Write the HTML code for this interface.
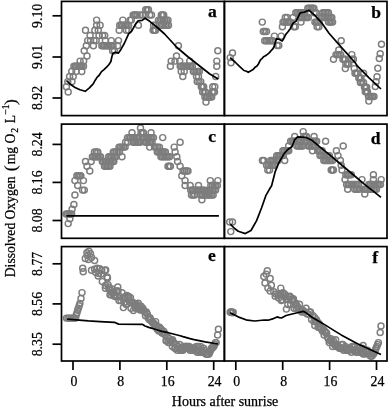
<!DOCTYPE html>
<html><head><meta charset="utf-8"><title>Dissolved Oxygen</title>
<style>html,body{margin:0;padding:0;background:#fff}svg{display:block}text{font-family:"Liberation Serif",serif;fill:#000;stroke:#000;stroke-width:0.25px}</style></head><body>
<svg width="388" height="410" viewBox="0 0 388 410">
<rect width="388" height="410" fill="#fff"/>
<g fill="none" stroke="#7d7d7d" stroke-width="1.45">
<circle cx="145.7" cy="9.8" r="3.0"/>
<circle cx="147.1" cy="9.8" r="3.0"/>
<circle cx="148.5" cy="9.8" r="3.0"/>
<circle cx="133.2" cy="14.9" r="3.0"/>
<circle cx="134.5" cy="14.9" r="3.0"/>
<circle cx="135.7" cy="14.9" r="3.0"/>
<circle cx="137" cy="14.9" r="3.0"/>
<circle cx="140.1" cy="14.9" r="3.0"/>
<circle cx="142.5" cy="14.9" r="3.0"/>
<circle cx="145.3" cy="14.9" r="3.0"/>
<circle cx="149.7" cy="14.9" r="3.0"/>
<circle cx="151.5" cy="14.9" r="3.0"/>
<circle cx="161.3" cy="14.9" r="3.0"/>
<circle cx="162.5" cy="14.9" r="3.0"/>
<circle cx="163.7" cy="14.9" r="3.0"/>
<circle cx="96.6" cy="20.1" r="3.0"/>
<circle cx="122.8" cy="20.1" r="3.0"/>
<circle cx="130" cy="20.1" r="3.0"/>
<circle cx="131.3" cy="20.1" r="3.0"/>
<circle cx="158.5" cy="20.1" r="3.0"/>
<circle cx="160.1" cy="20.1" r="3.0"/>
<circle cx="161.7" cy="20.1" r="3.0"/>
<circle cx="163.2" cy="20.1" r="3.0"/>
<circle cx="164.8" cy="20.1" r="3.0"/>
<circle cx="166.4" cy="20.1" r="3.0"/>
<circle cx="168" cy="20.1" r="3.0"/>
<circle cx="96.6" cy="25.2" r="3.0"/>
<circle cx="100.1" cy="25.2" r="3.0"/>
<circle cx="119.7" cy="25.2" r="3.0"/>
<circle cx="121.2" cy="25.2" r="3.0"/>
<circle cx="122.7" cy="25.2" r="3.0"/>
<circle cx="124.2" cy="25.2" r="3.0"/>
<circle cx="125.6" cy="25.2" r="3.0"/>
<circle cx="127.1" cy="25.2" r="3.0"/>
<circle cx="128.6" cy="25.2" r="3.0"/>
<circle cx="138.4" cy="25.2" r="3.0"/>
<circle cx="153.6" cy="25.2" r="3.0"/>
<circle cx="155.5" cy="25.2" r="3.0"/>
<circle cx="161" cy="25.2" r="3.0"/>
<circle cx="162.5" cy="25.2" r="3.0"/>
<circle cx="164" cy="25.2" r="3.0"/>
<circle cx="165.5" cy="25.2" r="3.0"/>
<circle cx="167" cy="25.2" r="3.0"/>
<circle cx="168.5" cy="25.2" r="3.0"/>
<circle cx="85.5" cy="30.3" r="3.0"/>
<circle cx="94.8" cy="30.3" r="3.0"/>
<circle cx="98.3" cy="30.3" r="3.0"/>
<circle cx="119.2" cy="30.3" r="3.0"/>
<circle cx="126.3" cy="30.3" r="3.0"/>
<circle cx="128.4" cy="30.3" r="3.0"/>
<circle cx="153.1" cy="30.3" r="3.0"/>
<circle cx="154.3" cy="30.3" r="3.0"/>
<circle cx="155.6" cy="30.3" r="3.0"/>
<circle cx="90.1" cy="35.5" r="3.0"/>
<circle cx="99" cy="35.5" r="3.0"/>
<circle cx="102.6" cy="35.5" r="3.0"/>
<circle cx="104.7" cy="35.5" r="3.0"/>
<circle cx="87.7" cy="40.6" r="3.0"/>
<circle cx="90.5" cy="40.6" r="3.0"/>
<circle cx="94" cy="40.6" r="3.0"/>
<circle cx="96.2" cy="40.6" r="3.0"/>
<circle cx="105.4" cy="40.6" r="3.0"/>
<circle cx="111.3" cy="40.6" r="3.0"/>
<circle cx="118.5" cy="40.6" r="3.0"/>
<circle cx="86.3" cy="45.7" r="3.0"/>
<circle cx="93.4" cy="45.7" r="3.0"/>
<circle cx="101.8" cy="45.7" r="3.0"/>
<circle cx="103.2" cy="45.7" r="3.0"/>
<circle cx="104.6" cy="45.7" r="3.0"/>
<circle cx="106" cy="45.7" r="3.0"/>
<circle cx="107.4" cy="45.7" r="3.0"/>
<circle cx="108.8" cy="45.7" r="3.0"/>
<circle cx="110.2" cy="45.7" r="3.0"/>
<circle cx="111.6" cy="45.7" r="3.0"/>
<circle cx="113" cy="45.7" r="3.0"/>
<circle cx="117.6" cy="45.7" r="3.0"/>
<circle cx="178.4" cy="45.7" r="3.0"/>
<circle cx="84.2" cy="50.8" r="3.0"/>
<circle cx="112.6" cy="50.8" r="3.0"/>
<circle cx="114.4" cy="50.8" r="3.0"/>
<circle cx="217.8" cy="50.8" r="3.0"/>
<circle cx="87" cy="56" r="3.0"/>
<circle cx="176.5" cy="56" r="3.0"/>
<circle cx="80.1" cy="61.1" r="3.0"/>
<circle cx="83.7" cy="61.1" r="3.0"/>
<circle cx="171.2" cy="61.1" r="3.0"/>
<circle cx="175" cy="61.1" r="3.0"/>
<circle cx="179.7" cy="61.1" r="3.0"/>
<circle cx="189.7" cy="61.1" r="3.0"/>
<circle cx="216.8" cy="61.1" r="3.0"/>
<circle cx="73.9" cy="66.2" r="3.0"/>
<circle cx="75.3" cy="66.2" r="3.0"/>
<circle cx="76.6" cy="66.2" r="3.0"/>
<circle cx="78" cy="66.2" r="3.0"/>
<circle cx="79.4" cy="66.2" r="3.0"/>
<circle cx="80.8" cy="66.2" r="3.0"/>
<circle cx="82.1" cy="66.2" r="3.0"/>
<circle cx="83.5" cy="66.2" r="3.0"/>
<circle cx="170.4" cy="66.2" r="3.0"/>
<circle cx="180.2" cy="66.2" r="3.0"/>
<circle cx="181.7" cy="66.2" r="3.0"/>
<circle cx="183.2" cy="66.2" r="3.0"/>
<circle cx="184.7" cy="66.2" r="3.0"/>
<circle cx="186.2" cy="66.2" r="3.0"/>
<circle cx="187.8" cy="66.2" r="3.0"/>
<circle cx="189.3" cy="66.2" r="3.0"/>
<circle cx="190.8" cy="66.2" r="3.0"/>
<circle cx="192.3" cy="66.2" r="3.0"/>
<circle cx="216.8" cy="66.2" r="3.0"/>
<circle cx="71.7" cy="71.4" r="3.0"/>
<circle cx="76" cy="71.4" r="3.0"/>
<circle cx="81.8" cy="71.4" r="3.0"/>
<circle cx="181.2" cy="71.4" r="3.0"/>
<circle cx="184.3" cy="71.4" r="3.0"/>
<circle cx="193.3" cy="71.4" r="3.0"/>
<circle cx="194.8" cy="71.4" r="3.0"/>
<circle cx="196.3" cy="71.4" r="3.0"/>
<circle cx="197.8" cy="71.4" r="3.0"/>
<circle cx="199.3" cy="71.4" r="3.0"/>
<circle cx="69.6" cy="76.5" r="3.0"/>
<circle cx="73.2" cy="76.5" r="3.0"/>
<circle cx="182.8" cy="76.5" r="3.0"/>
<circle cx="196.5" cy="76.5" r="3.0"/>
<circle cx="198.5" cy="76.5" r="3.0"/>
<circle cx="215.7" cy="76.5" r="3.0"/>
<circle cx="67.8" cy="81.6" r="3.0"/>
<circle cx="72" cy="81.6" r="3.0"/>
<circle cx="197.2" cy="81.6" r="3.0"/>
<circle cx="199" cy="81.6" r="3.0"/>
<circle cx="200.8" cy="81.6" r="3.0"/>
<circle cx="66.4" cy="86.8" r="3.0"/>
<circle cx="201.3" cy="86.8" r="3.0"/>
<circle cx="202.5" cy="86.8" r="3.0"/>
<circle cx="203.7" cy="86.8" r="3.0"/>
<circle cx="212.7" cy="86.8" r="3.0"/>
<circle cx="214.8" cy="86.8" r="3.0"/>
<circle cx="68.2" cy="91.9" r="3.0"/>
<circle cx="202.6" cy="91.9" r="3.0"/>
<circle cx="204.1" cy="91.9" r="3.0"/>
<circle cx="205.5" cy="91.9" r="3.0"/>
<circle cx="212.2" cy="91.9" r="3.0"/>
<circle cx="213.3" cy="91.9" r="3.0"/>
<circle cx="214.5" cy="91.9" r="3.0"/>
<circle cx="204.9" cy="97" r="3.0"/>
<circle cx="206.3" cy="97" r="3.0"/>
<circle cx="207.6" cy="97" r="3.0"/>
<circle cx="209" cy="97" r="3.0"/>
<circle cx="210.3" cy="97" r="3.0"/>
<circle cx="211.7" cy="97" r="3.0"/>
<circle cx="206" cy="102.1" r="3.0"/>
</g>
<polyline fill="none" stroke="#000" stroke-width="1.7" stroke-linejoin="round" points="66.4,80.5 70,84 75,87.5 80,89.8 85.2,91.3 89.4,87.8 93.4,83.6 95.2,80.2 97.4,76.9 99,75.5 101.5,71.6 104,69.6 106.8,66.8 109,64.5 110.9,61.5 111.8,57 112.9,53.4 115.6,52.2 118.3,53.2 120.4,50.3 124.5,43 128.6,33.8 131.7,31.2 135.3,24.5 137.9,20.9 142,20.4 145.1,18.2 149.7,21.3 156.8,27 164.6,34 177,47.5 188.2,57 199,65.5 209.8,74 218.3,79.1"/>
<g fill="none" stroke="#7d7d7d" stroke-width="1.45">
<circle cx="307.8" cy="8.2" r="3.0"/>
<circle cx="309.3" cy="8.2" r="3.0"/>
<circle cx="310.9" cy="8.2" r="3.0"/>
<circle cx="312.4" cy="8.2" r="3.0"/>
<circle cx="313.9" cy="8.2" r="3.0"/>
<circle cx="295.8" cy="12.8" r="3.0"/>
<circle cx="297.3" cy="12.8" r="3.0"/>
<circle cx="298.8" cy="12.8" r="3.0"/>
<circle cx="300.2" cy="12.8" r="3.0"/>
<circle cx="301.7" cy="12.8" r="3.0"/>
<circle cx="303.2" cy="12.8" r="3.0"/>
<circle cx="304.7" cy="12.8" r="3.0"/>
<circle cx="314.2" cy="12.8" r="3.0"/>
<circle cx="316.1" cy="12.8" r="3.0"/>
<circle cx="322.7" cy="12.8" r="3.0"/>
<circle cx="324.1" cy="12.8" r="3.0"/>
<circle cx="325.6" cy="12.8" r="3.0"/>
<circle cx="327.1" cy="12.8" r="3.0"/>
<circle cx="328.5" cy="12.8" r="3.0"/>
<circle cx="285.3" cy="17.5" r="3.0"/>
<circle cx="287.2" cy="17.5" r="3.0"/>
<circle cx="293.1" cy="17.5" r="3.0"/>
<circle cx="300" cy="17.5" r="3.0"/>
<circle cx="301.4" cy="17.5" r="3.0"/>
<circle cx="302.8" cy="17.5" r="3.0"/>
<circle cx="304.1" cy="17.5" r="3.0"/>
<circle cx="305.5" cy="17.5" r="3.0"/>
<circle cx="306.9" cy="17.5" r="3.0"/>
<circle cx="308.3" cy="17.5" r="3.0"/>
<circle cx="321.3" cy="17.5" r="3.0"/>
<circle cx="322.8" cy="17.5" r="3.0"/>
<circle cx="324.3" cy="17.5" r="3.0"/>
<circle cx="325.8" cy="17.5" r="3.0"/>
<circle cx="327.3" cy="17.5" r="3.0"/>
<circle cx="328.8" cy="17.5" r="3.0"/>
<circle cx="330.3" cy="17.5" r="3.0"/>
<circle cx="331.8" cy="17.5" r="3.0"/>
<circle cx="262.3" cy="22.1" r="3.0"/>
<circle cx="283" cy="22.1" r="3.0"/>
<circle cx="284.5" cy="22.1" r="3.0"/>
<circle cx="286" cy="22.1" r="3.0"/>
<circle cx="287.5" cy="22.1" r="3.0"/>
<circle cx="289" cy="22.1" r="3.0"/>
<circle cx="290.5" cy="22.1" r="3.0"/>
<circle cx="301" cy="22.1" r="3.0"/>
<circle cx="314.9" cy="22.1" r="3.0"/>
<circle cx="316.2" cy="22.1" r="3.0"/>
<circle cx="317.6" cy="22.1" r="3.0"/>
<circle cx="318.9" cy="22.1" r="3.0"/>
<circle cx="328.5" cy="22.1" r="3.0"/>
<circle cx="329.9" cy="22.1" r="3.0"/>
<circle cx="331.2" cy="22.1" r="3.0"/>
<circle cx="332.6" cy="22.1" r="3.0"/>
<circle cx="282.4" cy="26.8" r="3.0"/>
<circle cx="293.9" cy="26.8" r="3.0"/>
<circle cx="295.3" cy="26.8" r="3.0"/>
<circle cx="317.1" cy="26.8" r="3.0"/>
<circle cx="318.9" cy="26.8" r="3.0"/>
<circle cx="263.3" cy="31.4" r="3.0"/>
<circle cx="264.9" cy="31.4" r="3.0"/>
<circle cx="266.5" cy="31.4" r="3.0"/>
<circle cx="274.4" cy="36.1" r="3.0"/>
<circle cx="281.2" cy="36.1" r="3.0"/>
<circle cx="264.7" cy="40.7" r="3.0"/>
<circle cx="266.3" cy="40.7" r="3.0"/>
<circle cx="267.9" cy="40.7" r="3.0"/>
<circle cx="269.5" cy="40.7" r="3.0"/>
<circle cx="271.1" cy="40.7" r="3.0"/>
<circle cx="272.7" cy="40.7" r="3.0"/>
<circle cx="341.2" cy="40.7" r="3.0"/>
<circle cx="277.2" cy="45.4" r="3.0"/>
<circle cx="278.8" cy="45.4" r="3.0"/>
<circle cx="338.8" cy="50" r="3.0"/>
<circle cx="336" cy="54.6" r="3.0"/>
<circle cx="337.6" cy="54.6" r="3.0"/>
<circle cx="339.1" cy="54.6" r="3.0"/>
<circle cx="340.7" cy="54.6" r="3.0"/>
<circle cx="351.8" cy="54.6" r="3.0"/>
<circle cx="333.5" cy="59.3" r="3.0"/>
<circle cx="342.9" cy="59.3" r="3.0"/>
<circle cx="344.1" cy="59.3" r="3.0"/>
<circle cx="345.3" cy="59.3" r="3.0"/>
<circle cx="351.8" cy="59.3" r="3.0"/>
<circle cx="353.4" cy="59.3" r="3.0"/>
<circle cx="345.8" cy="63.9" r="3.0"/>
<circle cx="347.3" cy="63.9" r="3.0"/>
<circle cx="348.8" cy="63.9" r="3.0"/>
<circle cx="345.3" cy="68.6" r="3.0"/>
<circle cx="354.2" cy="68.6" r="3.0"/>
<circle cx="355" cy="73.2" r="3.0"/>
<circle cx="356.2" cy="73.2" r="3.0"/>
<circle cx="357.5" cy="73.2" r="3.0"/>
<circle cx="363.6" cy="73.2" r="3.0"/>
<circle cx="358.8" cy="77.9" r="3.0"/>
<circle cx="359.9" cy="77.9" r="3.0"/>
<circle cx="361" cy="77.9" r="3.0"/>
<circle cx="360.4" cy="82.5" r="3.0"/>
<circle cx="361.9" cy="82.5" r="3.0"/>
<circle cx="363.5" cy="82.5" r="3.0"/>
<circle cx="364.5" cy="87.2" r="3.0"/>
<circle cx="365.6" cy="87.2" r="3.0"/>
<circle cx="366.7" cy="87.2" r="3.0"/>
<circle cx="365.3" cy="91.8" r="3.0"/>
<circle cx="366.4" cy="91.8" r="3.0"/>
<circle cx="367.5" cy="91.8" r="3.0"/>
<circle cx="368.5" cy="96.5" r="3.0"/>
<circle cx="369.9" cy="96.5" r="3.0"/>
<circle cx="371.2" cy="96.5" r="3.0"/>
<circle cx="372.6" cy="96.5" r="3.0"/>
<circle cx="374" cy="96.5" r="3.0"/>
<circle cx="368.8" cy="101.1" r="3.0"/>
<circle cx="232.5" cy="52.9" r="3.0"/>
<circle cx="230.2" cy="57.6" r="3.0"/>
<circle cx="231" cy="62.7" r="3.0"/>
<circle cx="381.5" cy="44.2" r="3.0"/>
<circle cx="380.2" cy="53.8" r="3.0"/>
<circle cx="379.3" cy="58.5" r="3.0"/>
<circle cx="377.8" cy="68.2" r="3.0"/>
<circle cx="377" cy="76.8" r="3.0"/>
<circle cx="376.1" cy="81.7" r="3.0"/>
<circle cx="375.3" cy="86.5" r="3.0"/>
</g>
<polyline fill="none" stroke="#000" stroke-width="1.7" stroke-linejoin="round" points="230.2,57.6 235,62 240,66.8 244,70.5 246.5,71.2 248.3,72.3 250.5,71 252.7,69.8 255.5,66.9 257,66 258.4,64 260.6,59.7 262,58.6 263.5,56.8 265.5,55.8 267.1,54.6 269.5,52.6 271.4,50.3 273,48.6 274.3,46 275.4,42 276.5,38.8 279,39.2 282.2,41 283.8,38.5 285.8,34.4 288.2,31.5 290.2,28.7 293.1,23 296,21.3 300.2,12.8 304.5,12.1 308.8,10.2 315.1,15.6 322.2,23.4 329,33.3 341.2,47.1 355,62.5 357.5,66.2 368.8,77.6 381,89"/>
<g fill="none" stroke="#7d7d7d" stroke-width="1.45">
<circle cx="140.5" cy="128" r="3.0"/>
<circle cx="132" cy="132.8" r="3.0"/>
<circle cx="141" cy="132.8" r="3.0"/>
<circle cx="142.2" cy="132.8" r="3.0"/>
<circle cx="143.5" cy="132.8" r="3.0"/>
<circle cx="151.1" cy="132.8" r="3.0"/>
<circle cx="127.5" cy="137.6" r="3.0"/>
<circle cx="129" cy="137.6" r="3.0"/>
<circle cx="130.5" cy="137.6" r="3.0"/>
<circle cx="132" cy="137.6" r="3.0"/>
<circle cx="133.4" cy="137.6" r="3.0"/>
<circle cx="134.9" cy="137.6" r="3.0"/>
<circle cx="136.4" cy="137.6" r="3.0"/>
<circle cx="137.9" cy="137.6" r="3.0"/>
<circle cx="143.1" cy="137.6" r="3.0"/>
<circle cx="144.6" cy="137.6" r="3.0"/>
<circle cx="146.1" cy="137.6" r="3.0"/>
<circle cx="147.6" cy="137.6" r="3.0"/>
<circle cx="149" cy="137.6" r="3.0"/>
<circle cx="150.5" cy="137.6" r="3.0"/>
<circle cx="152" cy="137.6" r="3.0"/>
<circle cx="153.5" cy="137.6" r="3.0"/>
<circle cx="162.7" cy="137.6" r="3.0"/>
<circle cx="125.6" cy="142.3" r="3.0"/>
<circle cx="127.7" cy="142.3" r="3.0"/>
<circle cx="133.2" cy="142.3" r="3.0"/>
<circle cx="134.6" cy="142.3" r="3.0"/>
<circle cx="135.9" cy="142.3" r="3.0"/>
<circle cx="137.3" cy="142.3" r="3.0"/>
<circle cx="138.6" cy="142.3" r="3.0"/>
<circle cx="140" cy="142.3" r="3.0"/>
<circle cx="145.3" cy="142.3" r="3.0"/>
<circle cx="146.7" cy="142.3" r="3.0"/>
<circle cx="148" cy="142.3" r="3.0"/>
<circle cx="149.4" cy="142.3" r="3.0"/>
<circle cx="150.7" cy="142.3" r="3.0"/>
<circle cx="152.1" cy="142.3" r="3.0"/>
<circle cx="180.1" cy="142.3" r="3.0"/>
<circle cx="119" cy="147.1" r="3.0"/>
<circle cx="120.5" cy="147.1" r="3.0"/>
<circle cx="122" cy="147.1" r="3.0"/>
<circle cx="123.6" cy="147.1" r="3.0"/>
<circle cx="125.1" cy="147.1" r="3.0"/>
<circle cx="149.7" cy="147.1" r="3.0"/>
<circle cx="154.5" cy="147.1" r="3.0"/>
<circle cx="156.2" cy="147.1" r="3.0"/>
<circle cx="157.8" cy="147.1" r="3.0"/>
<circle cx="159.5" cy="147.1" r="3.0"/>
<circle cx="174.2" cy="147.1" r="3.0"/>
<circle cx="94.5" cy="151.9" r="3.0"/>
<circle cx="96.2" cy="151.9" r="3.0"/>
<circle cx="97.8" cy="151.9" r="3.0"/>
<circle cx="113.3" cy="151.9" r="3.0"/>
<circle cx="114.8" cy="151.9" r="3.0"/>
<circle cx="116.4" cy="151.9" r="3.0"/>
<circle cx="118" cy="151.9" r="3.0"/>
<circle cx="119.5" cy="151.9" r="3.0"/>
<circle cx="157.3" cy="151.9" r="3.0"/>
<circle cx="158.7" cy="151.9" r="3.0"/>
<circle cx="160" cy="151.9" r="3.0"/>
<circle cx="161.4" cy="151.9" r="3.0"/>
<circle cx="162.7" cy="151.9" r="3.0"/>
<circle cx="164.1" cy="151.9" r="3.0"/>
<circle cx="165.4" cy="151.9" r="3.0"/>
<circle cx="175.1" cy="151.9" r="3.0"/>
<circle cx="92.4" cy="156.7" r="3.0"/>
<circle cx="93.8" cy="156.7" r="3.0"/>
<circle cx="95.1" cy="156.7" r="3.0"/>
<circle cx="96.5" cy="156.7" r="3.0"/>
<circle cx="97.9" cy="156.7" r="3.0"/>
<circle cx="99.2" cy="156.7" r="3.0"/>
<circle cx="100.6" cy="156.7" r="3.0"/>
<circle cx="108.7" cy="156.7" r="3.0"/>
<circle cx="110.1" cy="156.7" r="3.0"/>
<circle cx="111.6" cy="156.7" r="3.0"/>
<circle cx="113" cy="156.7" r="3.0"/>
<circle cx="114.5" cy="156.7" r="3.0"/>
<circle cx="115.9" cy="156.7" r="3.0"/>
<circle cx="122" cy="156.7" r="3.0"/>
<circle cx="160.9" cy="156.7" r="3.0"/>
<circle cx="162.3" cy="156.7" r="3.0"/>
<circle cx="163.8" cy="156.7" r="3.0"/>
<circle cx="165.2" cy="156.7" r="3.0"/>
<circle cx="166.6" cy="156.7" r="3.0"/>
<circle cx="168.1" cy="156.7" r="3.0"/>
<circle cx="169.5" cy="156.7" r="3.0"/>
<circle cx="176.8" cy="156.7" r="3.0"/>
<circle cx="85.5" cy="161.5" r="3.0"/>
<circle cx="91.2" cy="161.5" r="3.0"/>
<circle cx="102.3" cy="161.5" r="3.0"/>
<circle cx="103.7" cy="161.5" r="3.0"/>
<circle cx="105.2" cy="161.5" r="3.0"/>
<circle cx="106.6" cy="161.5" r="3.0"/>
<circle cx="108" cy="161.5" r="3.0"/>
<circle cx="109.5" cy="161.5" r="3.0"/>
<circle cx="110.9" cy="161.5" r="3.0"/>
<circle cx="112.4" cy="161.5" r="3.0"/>
<circle cx="113.8" cy="161.5" r="3.0"/>
<circle cx="177.6" cy="161.5" r="3.0"/>
<circle cx="87" cy="166.2" r="3.0"/>
<circle cx="104.5" cy="166.2" r="3.0"/>
<circle cx="105.8" cy="166.2" r="3.0"/>
<circle cx="107.1" cy="166.2" r="3.0"/>
<circle cx="108.4" cy="166.2" r="3.0"/>
<circle cx="110" cy="166.2" r="3.0"/>
<circle cx="168" cy="166.2" r="3.0"/>
<circle cx="169.2" cy="166.2" r="3.0"/>
<circle cx="170.4" cy="166.2" r="3.0"/>
<circle cx="180.1" cy="166.2" r="3.0"/>
<circle cx="89.8" cy="171" r="3.0"/>
<circle cx="183.1" cy="171" r="3.0"/>
<circle cx="184.7" cy="171" r="3.0"/>
<circle cx="186.4" cy="171" r="3.0"/>
<circle cx="188" cy="171" r="3.0"/>
<circle cx="76.8" cy="175.8" r="3.0"/>
<circle cx="78.1" cy="175.8" r="3.0"/>
<circle cx="79.5" cy="175.8" r="3.0"/>
<circle cx="80.8" cy="175.8" r="3.0"/>
<circle cx="181.8" cy="175.8" r="3.0"/>
<circle cx="74.9" cy="180.6" r="3.0"/>
<circle cx="83.4" cy="180.6" r="3.0"/>
<circle cx="185.1" cy="180.6" r="3.0"/>
<circle cx="210.3" cy="180.6" r="3.0"/>
<circle cx="217.8" cy="180.6" r="3.0"/>
<circle cx="77.7" cy="185.4" r="3.0"/>
<circle cx="185.1" cy="185.4" r="3.0"/>
<circle cx="190.2" cy="185.4" r="3.0"/>
<circle cx="198.5" cy="185.4" r="3.0"/>
<circle cx="210.8" cy="185.4" r="3.0"/>
<circle cx="212.4" cy="185.4" r="3.0"/>
<circle cx="214.1" cy="185.4" r="3.0"/>
<circle cx="215.7" cy="185.4" r="3.0"/>
<circle cx="217.3" cy="185.4" r="3.0"/>
<circle cx="82.5" cy="190.1" r="3.0"/>
<circle cx="84.3" cy="190.1" r="3.0"/>
<circle cx="190.7" cy="190.1" r="3.0"/>
<circle cx="192.1" cy="190.1" r="3.0"/>
<circle cx="193.5" cy="190.1" r="3.0"/>
<circle cx="194.9" cy="190.1" r="3.0"/>
<circle cx="196.3" cy="190.1" r="3.0"/>
<circle cx="197.7" cy="190.1" r="3.0"/>
<circle cx="199.1" cy="190.1" r="3.0"/>
<circle cx="200.5" cy="190.1" r="3.0"/>
<circle cx="201.9" cy="190.1" r="3.0"/>
<circle cx="203.3" cy="190.1" r="3.0"/>
<circle cx="204.7" cy="190.1" r="3.0"/>
<circle cx="208.2" cy="190.1" r="3.0"/>
<circle cx="209.7" cy="190.1" r="3.0"/>
<circle cx="211.2" cy="190.1" r="3.0"/>
<circle cx="212.6" cy="190.1" r="3.0"/>
<circle cx="214.1" cy="190.1" r="3.0"/>
<circle cx="215.6" cy="190.1" r="3.0"/>
<circle cx="74.9" cy="194.9" r="3.0"/>
<circle cx="191.5" cy="194.9" r="3.0"/>
<circle cx="193.1" cy="194.9" r="3.0"/>
<circle cx="194.7" cy="194.9" r="3.0"/>
<circle cx="200.7" cy="194.9" r="3.0"/>
<circle cx="202.2" cy="194.9" r="3.0"/>
<circle cx="203.8" cy="194.9" r="3.0"/>
<circle cx="205.3" cy="194.9" r="3.0"/>
<circle cx="206.9" cy="194.9" r="3.0"/>
<circle cx="208.4" cy="194.9" r="3.0"/>
<circle cx="210" cy="194.9" r="3.0"/>
<circle cx="211.5" cy="194.9" r="3.0"/>
<circle cx="213.1" cy="194.9" r="3.0"/>
<circle cx="201.9" cy="199.7" r="3.0"/>
<circle cx="73.9" cy="204.5" r="3.0"/>
<circle cx="72.1" cy="209.3" r="3.0"/>
<circle cx="66.2" cy="214" r="3.0"/>
<circle cx="67.5" cy="214" r="3.0"/>
<circle cx="68.9" cy="214" r="3.0"/>
<circle cx="70.2" cy="214" r="3.0"/>
<circle cx="71.6" cy="214" r="3.0"/>
<circle cx="69.9" cy="218.8" r="3.0"/>
<circle cx="68.2" cy="223.6" r="3.0"/>
</g>
<polyline fill="none" stroke="#000" stroke-width="1.7" stroke-linejoin="round" points="66.4,215.8 218.9,215.8"/>
<g fill="none" stroke="#7d7d7d" stroke-width="1.45">
<circle cx="303.2" cy="131.6" r="3.0"/>
<circle cx="294.7" cy="136.4" r="3.0"/>
<circle cx="303.7" cy="136.4" r="3.0"/>
<circle cx="305.1" cy="136.4" r="3.0"/>
<circle cx="306.6" cy="136.4" r="3.0"/>
<circle cx="314.1" cy="136.4" r="3.0"/>
<circle cx="290.6" cy="141.2" r="3.0"/>
<circle cx="292" cy="141.2" r="3.0"/>
<circle cx="293.4" cy="141.2" r="3.0"/>
<circle cx="294.8" cy="141.2" r="3.0"/>
<circle cx="296.2" cy="141.2" r="3.0"/>
<circle cx="297.6" cy="141.2" r="3.0"/>
<circle cx="299" cy="141.2" r="3.0"/>
<circle cx="300.4" cy="141.2" r="3.0"/>
<circle cx="306.1" cy="141.2" r="3.0"/>
<circle cx="307.6" cy="141.2" r="3.0"/>
<circle cx="309.1" cy="141.2" r="3.0"/>
<circle cx="310.6" cy="141.2" r="3.0"/>
<circle cx="312.2" cy="141.2" r="3.0"/>
<circle cx="313.7" cy="141.2" r="3.0"/>
<circle cx="315.2" cy="141.2" r="3.0"/>
<circle cx="316.7" cy="141.2" r="3.0"/>
<circle cx="325.6" cy="141.2" r="3.0"/>
<circle cx="288.6" cy="146" r="3.0"/>
<circle cx="296.8" cy="146" r="3.0"/>
<circle cx="298.3" cy="146" r="3.0"/>
<circle cx="299.8" cy="146" r="3.0"/>
<circle cx="301.2" cy="146" r="3.0"/>
<circle cx="302.7" cy="146" r="3.0"/>
<circle cx="308.4" cy="146" r="3.0"/>
<circle cx="309.7" cy="146" r="3.0"/>
<circle cx="311.1" cy="146" r="3.0"/>
<circle cx="312.4" cy="146" r="3.0"/>
<circle cx="313.8" cy="146" r="3.0"/>
<circle cx="315.1" cy="146" r="3.0"/>
<circle cx="343.2" cy="146" r="3.0"/>
<circle cx="282.9" cy="150.8" r="3.0"/>
<circle cx="284.4" cy="150.8" r="3.0"/>
<circle cx="285.9" cy="150.8" r="3.0"/>
<circle cx="287.3" cy="150.8" r="3.0"/>
<circle cx="288.8" cy="150.8" r="3.0"/>
<circle cx="312.5" cy="150.8" r="3.0"/>
<circle cx="317.7" cy="150.8" r="3.0"/>
<circle cx="319.2" cy="150.8" r="3.0"/>
<circle cx="320.6" cy="150.8" r="3.0"/>
<circle cx="322.1" cy="150.8" r="3.0"/>
<circle cx="336.4" cy="150.8" r="3.0"/>
<circle cx="276.7" cy="155.6" r="3.0"/>
<circle cx="278" cy="155.6" r="3.0"/>
<circle cx="279.4" cy="155.6" r="3.0"/>
<circle cx="280.7" cy="155.6" r="3.0"/>
<circle cx="282.1" cy="155.6" r="3.0"/>
<circle cx="283.4" cy="155.6" r="3.0"/>
<circle cx="320" cy="155.6" r="3.0"/>
<circle cx="321.6" cy="155.6" r="3.0"/>
<circle cx="323.1" cy="155.6" r="3.0"/>
<circle cx="324.7" cy="155.6" r="3.0"/>
<circle cx="326.3" cy="155.6" r="3.0"/>
<circle cx="327.8" cy="155.6" r="3.0"/>
<circle cx="329.4" cy="155.6" r="3.0"/>
<circle cx="338" cy="155.6" r="3.0"/>
<circle cx="262.4" cy="160.4" r="3.0"/>
<circle cx="263.8" cy="160.4" r="3.0"/>
<circle cx="270.6" cy="160.4" r="3.0"/>
<circle cx="272.1" cy="160.4" r="3.0"/>
<circle cx="273.6" cy="160.4" r="3.0"/>
<circle cx="275" cy="160.4" r="3.0"/>
<circle cx="276.5" cy="160.4" r="3.0"/>
<circle cx="278" cy="160.4" r="3.0"/>
<circle cx="284.7" cy="160.4" r="3.0"/>
<circle cx="323.8" cy="160.4" r="3.0"/>
<circle cx="325.3" cy="160.4" r="3.0"/>
<circle cx="326.7" cy="160.4" r="3.0"/>
<circle cx="328.2" cy="160.4" r="3.0"/>
<circle cx="329.7" cy="160.4" r="3.0"/>
<circle cx="331.1" cy="160.4" r="3.0"/>
<circle cx="332.6" cy="160.4" r="3.0"/>
<circle cx="340.4" cy="160.4" r="3.0"/>
<circle cx="266.6" cy="165.2" r="3.0"/>
<circle cx="268.2" cy="165.2" r="3.0"/>
<circle cx="269.8" cy="165.2" r="3.0"/>
<circle cx="271.3" cy="165.2" r="3.0"/>
<circle cx="272.9" cy="165.2" r="3.0"/>
<circle cx="274.5" cy="165.2" r="3.0"/>
<circle cx="341.2" cy="165.2" r="3.0"/>
<circle cx="267.8" cy="170" r="3.0"/>
<circle cx="269.6" cy="170" r="3.0"/>
<circle cx="331.2" cy="170" r="3.0"/>
<circle cx="332.3" cy="170" r="3.0"/>
<circle cx="333.4" cy="170" r="3.0"/>
<circle cx="342" cy="170" r="3.0"/>
<circle cx="345.8" cy="174.8" r="3.0"/>
<circle cx="347.2" cy="174.8" r="3.0"/>
<circle cx="348.6" cy="174.8" r="3.0"/>
<circle cx="349.9" cy="174.8" r="3.0"/>
<circle cx="351.3" cy="174.8" r="3.0"/>
<circle cx="373.4" cy="174.8" r="3.0"/>
<circle cx="345" cy="179.6" r="3.0"/>
<circle cx="362" cy="179.6" r="3.0"/>
<circle cx="373.4" cy="179.6" r="3.0"/>
<circle cx="381.2" cy="179.6" r="3.0"/>
<circle cx="346.6" cy="184.4" r="3.0"/>
<circle cx="348.1" cy="184.4" r="3.0"/>
<circle cx="349.6" cy="184.4" r="3.0"/>
<circle cx="351.1" cy="184.4" r="3.0"/>
<circle cx="352.6" cy="184.4" r="3.0"/>
<circle cx="354.1" cy="184.4" r="3.0"/>
<circle cx="355.6" cy="184.4" r="3.0"/>
<circle cx="357.1" cy="184.4" r="3.0"/>
<circle cx="358.6" cy="184.4" r="3.0"/>
<circle cx="368.9" cy="184.4" r="3.0"/>
<circle cx="370.3" cy="184.4" r="3.0"/>
<circle cx="371.8" cy="184.4" r="3.0"/>
<circle cx="373.2" cy="184.4" r="3.0"/>
<circle cx="374.7" cy="184.4" r="3.0"/>
<circle cx="376.1" cy="184.4" r="3.0"/>
<circle cx="377.6" cy="184.4" r="3.0"/>
<circle cx="379.1" cy="184.4" r="3.0"/>
<circle cx="380.5" cy="184.4" r="3.0"/>
<circle cx="347.7" cy="189.2" r="3.0"/>
<circle cx="354.7" cy="189.2" r="3.0"/>
<circle cx="356.3" cy="189.2" r="3.0"/>
<circle cx="357.8" cy="189.2" r="3.0"/>
<circle cx="359.4" cy="189.2" r="3.0"/>
<circle cx="364.5" cy="189.2" r="3.0"/>
<circle cx="366" cy="189.2" r="3.0"/>
<circle cx="367.5" cy="189.2" r="3.0"/>
<circle cx="369" cy="189.2" r="3.0"/>
<circle cx="370.5" cy="189.2" r="3.0"/>
<circle cx="372" cy="189.2" r="3.0"/>
<circle cx="373.5" cy="189.2" r="3.0"/>
<circle cx="375" cy="189.2" r="3.0"/>
<circle cx="376.5" cy="189.2" r="3.0"/>
<circle cx="364.8" cy="194" r="3.0"/>
<circle cx="229.7" cy="222" r="3.0"/>
<circle cx="232.5" cy="222" r="3.0"/>
<circle cx="230.8" cy="231.6" r="3.0"/>
</g>
<polyline fill="none" stroke="#000" stroke-width="1.7" stroke-linejoin="round" points="230.4,224.1 234,228 238.2,231.2 245.3,233.6 251,230.5 256.6,220.6 261.6,207.8 265.8,195.7 269.4,189.3 271.6,185.7 275.3,171.3 278.9,162.6 283.9,154 287.5,149.8 291.8,146.8 293.2,143.5 294.7,139.6 297.6,136.9 305.6,137.3 311.8,140.2 319.5,146.7 330,155.2 349.4,171.5 364,183.8 381,197.3"/>
<g fill="none" stroke="#7d7d7d" stroke-width="1.45">
<circle cx="66.4" cy="318.1" r="3.0"/>
<circle cx="67.9" cy="318.1" r="3.0"/>
<circle cx="69.5" cy="318.1" r="3.0"/>
<circle cx="71" cy="318.1" r="3.0"/>
<circle cx="72.5" cy="318.1" r="3.0"/>
<circle cx="74.1" cy="318.1" r="3.0"/>
<circle cx="75.6" cy="318.1" r="3.0"/>
<circle cx="76.3" cy="314.8" r="3.0"/>
<circle cx="77" cy="312.6" r="3.0"/>
<circle cx="77.7" cy="310.3" r="3.0"/>
<circle cx="78.4" cy="308.1" r="3.0"/>
<circle cx="79.2" cy="305.8" r="3.0"/>
<circle cx="79.9" cy="303.5" r="3.0"/>
<circle cx="81" cy="298.5" r="3.0"/>
<circle cx="82" cy="292.6" r="3.0"/>
<circle cx="83.2" cy="271.8" r="3.0"/>
<circle cx="82.7" cy="268.2" r="3.0"/>
<circle cx="85.3" cy="258.4" r="3.0"/>
<circle cx="86.9" cy="252.7" r="3.0"/>
<circle cx="88.9" cy="251.2" r="3.0"/>
<circle cx="90.5" cy="253.8" r="3.0"/>
<circle cx="88.4" cy="259.4" r="3.0"/>
<circle cx="87.5" cy="255.5" r="3.0"/>
<circle cx="91.5" cy="257.4" r="3.0"/>
<circle cx="94.6" cy="260.5" r="3.0"/>
<circle cx="91.5" cy="270.3" r="3.0"/>
<circle cx="94.6" cy="269.2" r="3.0"/>
<circle cx="97.2" cy="268.2" r="3.0"/>
<circle cx="99.7" cy="268.7" r="3.0"/>
<circle cx="101.8" cy="270.3" r="3.0"/>
<circle cx="104.9" cy="270.3" r="3.0"/>
<circle cx="95.6" cy="272.3" r="3.0"/>
<circle cx="98.7" cy="273.4" r="3.0"/>
<circle cx="101.3" cy="273.9" r="3.0"/>
<circle cx="98.2" cy="275.9" r="3.0"/>
<circle cx="107.5" cy="278" r="3.0"/>
<circle cx="102.3" cy="281.6" r="3.0"/>
<circle cx="108" cy="284.7" r="3.0"/>
<circle cx="105.4" cy="285.4" r="3.0"/>
<circle cx="105.4" cy="288.3" r="3.0"/>
<circle cx="108.9" cy="289" r="3.0"/>
<circle cx="111" cy="290.4" r="3.0"/>
<circle cx="112.5" cy="293.2" r="3.0"/>
<circle cx="113.9" cy="296" r="3.0"/>
<circle cx="105.7" cy="270" r="3.0"/>
<circle cx="107.1" cy="277" r="3.0"/>
<circle cx="117.8" cy="287" r="3.0"/>
<circle cx="127" cy="295.5" r="3.0"/>
<circle cx="130.5" cy="297.6" r="3.0"/>
<circle cx="138.3" cy="303.3" r="3.0"/>
<circle cx="123.4" cy="307.6" r="3.0"/>
<circle cx="133.4" cy="310.4" r="3.0"/>
<circle cx="172.5" cy="339.7" r="3.0"/>
<circle cx="217.6" cy="335" r="3.0"/>
<circle cx="218.4" cy="329.2" r="3.0"/>
<circle cx="109" cy="287.1" r="3.0"/>
<circle cx="110" cy="294.8" r="3.0"/>
<circle cx="111" cy="294.8" r="3.0"/>
<circle cx="112" cy="289" r="3.0"/>
<circle cx="113" cy="292.8" r="3.0"/>
<circle cx="114" cy="292.8" r="3.0"/>
<circle cx="115" cy="294.8" r="3.0"/>
<circle cx="116" cy="296.7" r="3.0"/>
<circle cx="117" cy="290.9" r="3.0"/>
<circle cx="118" cy="290.9" r="3.0"/>
<circle cx="119" cy="300.5" r="3.0"/>
<circle cx="120" cy="296.7" r="3.0"/>
<circle cx="121" cy="300.5" r="3.0"/>
<circle cx="122" cy="292.8" r="3.0"/>
<circle cx="123" cy="298.6" r="3.0"/>
<circle cx="124" cy="302.4" r="3.0"/>
<circle cx="125" cy="296.7" r="3.0"/>
<circle cx="126" cy="304.3" r="3.0"/>
<circle cx="127" cy="304.3" r="3.0"/>
<circle cx="128" cy="296.7" r="3.0"/>
<circle cx="129" cy="296.7" r="3.0"/>
<circle cx="130" cy="302.4" r="3.0"/>
<circle cx="131" cy="308.2" r="3.0"/>
<circle cx="132" cy="302.4" r="3.0"/>
<circle cx="133" cy="302.4" r="3.0"/>
<circle cx="133.8" cy="304.3" r="3.0"/>
<circle cx="134.7" cy="304.3" r="3.0"/>
<circle cx="135.6" cy="308.2" r="3.0"/>
<circle cx="136.5" cy="304.3" r="3.0"/>
<circle cx="137.4" cy="308.2" r="3.0"/>
<circle cx="138.3" cy="308.2" r="3.0"/>
<circle cx="139.2" cy="306.2" r="3.0"/>
<circle cx="140.1" cy="310.1" r="3.0"/>
<circle cx="141" cy="306.2" r="3.0"/>
<circle cx="141.9" cy="310.1" r="3.0"/>
<circle cx="142.8" cy="308.2" r="3.0"/>
<circle cx="143.7" cy="310.1" r="3.0"/>
<circle cx="144.6" cy="312" r="3.0"/>
<circle cx="145.5" cy="315.8" r="3.0"/>
<circle cx="146.4" cy="312" r="3.0"/>
<circle cx="147.3" cy="313.9" r="3.0"/>
<circle cx="148.2" cy="317.7" r="3.0"/>
<circle cx="149.1" cy="319.6" r="3.0"/>
<circle cx="150" cy="317.7" r="3.0"/>
<circle cx="150.8" cy="319.6" r="3.0"/>
<circle cx="151.6" cy="321.6" r="3.0"/>
<circle cx="152.4" cy="321.6" r="3.0"/>
<circle cx="153.2" cy="323.5" r="3.0"/>
<circle cx="154" cy="323.5" r="3.0"/>
<circle cx="154.8" cy="325.4" r="3.0"/>
<circle cx="155.6" cy="321.6" r="3.0"/>
<circle cx="156.4" cy="325.4" r="3.0"/>
<circle cx="157.2" cy="329.2" r="3.0"/>
<circle cx="158" cy="327.3" r="3.0"/>
<circle cx="158.8" cy="331.1" r="3.0"/>
<circle cx="159.6" cy="327.3" r="3.0"/>
<circle cx="160.4" cy="329.2" r="3.0"/>
<circle cx="161.2" cy="329.2" r="3.0"/>
<circle cx="162" cy="333" r="3.0"/>
<circle cx="162.8" cy="333" r="3.0"/>
<circle cx="163.6" cy="331.1" r="3.0"/>
<circle cx="164.4" cy="333" r="3.0"/>
<circle cx="165.2" cy="334.9" r="3.0"/>
<circle cx="166" cy="340.7" r="3.0"/>
<circle cx="166.8" cy="340.7" r="3.0"/>
<circle cx="167.6" cy="336.9" r="3.0"/>
<circle cx="168.4" cy="342.6" r="3.0"/>
<circle cx="169.2" cy="338.8" r="3.0"/>
<circle cx="170" cy="342.6" r="3.0"/>
<circle cx="170.8" cy="340.7" r="3.0"/>
<circle cx="171.6" cy="340.7" r="3.0"/>
<circle cx="172.4" cy="346.4" r="3.0"/>
<circle cx="173.2" cy="342.6" r="3.0"/>
<circle cx="174" cy="342.6" r="3.0"/>
<circle cx="174.8" cy="348.3" r="3.0"/>
<circle cx="175.6" cy="348.3" r="3.0"/>
<circle cx="176.4" cy="344.5" r="3.0"/>
<circle cx="177.2" cy="350.3" r="3.0"/>
<circle cx="178" cy="346.4" r="3.0"/>
<circle cx="178.8" cy="348.3" r="3.0"/>
<circle cx="179.6" cy="344.5" r="3.0"/>
<circle cx="180.4" cy="350.3" r="3.0"/>
<circle cx="181.2" cy="348.3" r="3.0"/>
<circle cx="182" cy="350.3" r="3.0"/>
<circle cx="182.8" cy="350.3" r="3.0"/>
<circle cx="183.6" cy="346.4" r="3.0"/>
<circle cx="184.4" cy="348.3" r="3.0"/>
<circle cx="185.2" cy="346.4" r="3.0"/>
<circle cx="186" cy="346.4" r="3.0"/>
<circle cx="186.8" cy="346.4" r="3.0"/>
<circle cx="187.6" cy="346.4" r="3.0"/>
<circle cx="188.4" cy="348.3" r="3.0"/>
<circle cx="189.2" cy="346.4" r="3.0"/>
<circle cx="190" cy="350.3" r="3.0"/>
<circle cx="190.8" cy="348.3" r="3.0"/>
<circle cx="191.6" cy="348.3" r="3.0"/>
<circle cx="192.4" cy="350.3" r="3.0"/>
<circle cx="193.2" cy="348.3" r="3.0"/>
<circle cx="194" cy="348.3" r="3.0"/>
<circle cx="194.8" cy="348.3" r="3.0"/>
<circle cx="195.6" cy="350.3" r="3.0"/>
<circle cx="196.4" cy="346.4" r="3.0"/>
<circle cx="197.2" cy="352.2" r="3.0"/>
<circle cx="198" cy="346.4" r="3.0"/>
<circle cx="198.8" cy="350.3" r="3.0"/>
<circle cx="199.6" cy="352.2" r="3.0"/>
<circle cx="200.4" cy="346.4" r="3.0"/>
<circle cx="201.2" cy="352.2" r="3.0"/>
<circle cx="202" cy="350.3" r="3.0"/>
<circle cx="202.8" cy="352.2" r="3.0"/>
<circle cx="203.6" cy="348.3" r="3.0"/>
<circle cx="204.4" cy="350.3" r="3.0"/>
<circle cx="205.8" cy="354.1" r="3.0"/>
<circle cx="206.6" cy="354.1" r="3.0"/>
<circle cx="207.4" cy="354.1" r="3.0"/>
<circle cx="208.2" cy="354.1" r="3.0"/>
<circle cx="209" cy="354.1" r="3.0"/>
<circle cx="209.8" cy="352.2" r="3.0"/>
<circle cx="210.6" cy="350.3" r="3.0"/>
<circle cx="211.4" cy="348.3" r="3.0"/>
<circle cx="212.2" cy="348.3" r="3.0"/>
<circle cx="213" cy="346.4" r="3.0"/>
<circle cx="213.8" cy="346.4" r="3.0"/>
<circle cx="214.6" cy="344.5" r="3.0"/>
<circle cx="215.4" cy="342.6" r="3.0"/>
<circle cx="216.2" cy="342.6" r="3.0"/>
</g>
<polyline fill="none" stroke="#000" stroke-width="1.7" stroke-linejoin="round" points="67.1,319.1 88.4,320.9 100,321.6 114.4,322.3 118.6,324.1 142.3,324.3 145,326 149.5,327.6 156.7,329.7 161.9,331.4 168.4,332.7 180.2,335.7 183,336.6 190,338.6 194.1,339.6 205.2,341.8 217.9,344"/>
<g fill="none" stroke="#7d7d7d" stroke-width="1.45">
<circle cx="230.2" cy="312.3" r="3.0"/>
<circle cx="231.7" cy="312.3" r="3.0"/>
<circle cx="233.2" cy="312.3" r="3.0"/>
<circle cx="231" cy="311.8" r="3.0"/>
<circle cx="232.4" cy="312.8" r="3.0"/>
<circle cx="267.3" cy="270.8" r="3.0"/>
<circle cx="266.1" cy="274.1" r="3.0"/>
<circle cx="263.8" cy="276.4" r="3.0"/>
<circle cx="270.2" cy="278.5" r="3.0"/>
<circle cx="265" cy="282.9" r="3.0"/>
<circle cx="271.4" cy="285.2" r="3.0"/>
<circle cx="267.9" cy="288.1" r="3.0"/>
<circle cx="280.8" cy="288.1" r="3.0"/>
<circle cx="270.2" cy="291.1" r="3.0"/>
<circle cx="273.8" cy="291.7" r="3.0"/>
<circle cx="276.1" cy="294" r="3.0"/>
<circle cx="278.4" cy="295.2" r="3.0"/>
<circle cx="280.8" cy="294" r="3.0"/>
<circle cx="284.3" cy="294" r="3.0"/>
<circle cx="281.4" cy="300.4" r="3.0"/>
<circle cx="290.2" cy="297.5" r="3.0"/>
<circle cx="293.1" cy="298.7" r="3.0"/>
<circle cx="287.8" cy="304.5" r="3.0"/>
<circle cx="296" cy="303.4" r="3.0"/>
<circle cx="275.2" cy="296.2" r="3.0"/>
<circle cx="278.6" cy="297.9" r="3.0"/>
<circle cx="282" cy="299.6" r="3.0"/>
<circle cx="287.1" cy="299.6" r="3.0"/>
<circle cx="286.4" cy="309.1" r="3.0"/>
<circle cx="289.9" cy="296.3" r="3.0"/>
<circle cx="293.5" cy="299.2" r="3.0"/>
<circle cx="314.8" cy="325.4" r="3.0"/>
<circle cx="320.4" cy="327.6" r="3.0"/>
<circle cx="335.6" cy="339.8" r="3.0"/>
<circle cx="363.1" cy="345.5" r="3.0"/>
<circle cx="354.2" cy="347.1" r="3.0"/>
<circle cx="381" cy="326" r="3.0"/>
<circle cx="380.2" cy="332.5" r="3.0"/>
<circle cx="283" cy="292.8" r="3.0"/>
<circle cx="284.1" cy="296.7" r="3.0"/>
<circle cx="285.2" cy="294.8" r="3.0"/>
<circle cx="286.3" cy="298.6" r="3.0"/>
<circle cx="287.4" cy="298.6" r="3.0"/>
<circle cx="288.5" cy="296.7" r="3.0"/>
<circle cx="289.6" cy="296.7" r="3.0"/>
<circle cx="290.7" cy="304.3" r="3.0"/>
<circle cx="291.8" cy="300.5" r="3.0"/>
<circle cx="292.9" cy="300.5" r="3.0"/>
<circle cx="294" cy="308.2" r="3.0"/>
<circle cx="295.1" cy="304.3" r="3.0"/>
<circle cx="296.2" cy="308.2" r="3.0"/>
<circle cx="297.3" cy="306.2" r="3.0"/>
<circle cx="298.4" cy="308.2" r="3.0"/>
<circle cx="299.5" cy="304.3" r="3.0"/>
<circle cx="300.6" cy="310.1" r="3.0"/>
<circle cx="301.7" cy="312" r="3.0"/>
<circle cx="302.8" cy="310.1" r="3.0"/>
<circle cx="303.9" cy="312" r="3.0"/>
<circle cx="305" cy="312" r="3.0"/>
<circle cx="306.1" cy="308.2" r="3.0"/>
<circle cx="307.2" cy="313.9" r="3.0"/>
<circle cx="308.3" cy="313.9" r="3.0"/>
<circle cx="309.4" cy="312" r="3.0"/>
<circle cx="310.5" cy="312" r="3.0"/>
<circle cx="311.6" cy="319.6" r="3.0"/>
<circle cx="313" cy="315.8" r="3.0"/>
<circle cx="313.9" cy="321.6" r="3.0"/>
<circle cx="314.7" cy="317.7" r="3.0"/>
<circle cx="315.6" cy="321.6" r="3.0"/>
<circle cx="316.4" cy="319.6" r="3.0"/>
<circle cx="317.3" cy="321.6" r="3.0"/>
<circle cx="318.1" cy="327.3" r="3.0"/>
<circle cx="319" cy="323.5" r="3.0"/>
<circle cx="319.8" cy="327.3" r="3.0"/>
<circle cx="320.7" cy="327.3" r="3.0"/>
<circle cx="321.5" cy="329.2" r="3.0"/>
<circle cx="322.4" cy="331.1" r="3.0"/>
<circle cx="323.2" cy="329.2" r="3.0"/>
<circle cx="324.1" cy="334.9" r="3.0"/>
<circle cx="324.9" cy="331.1" r="3.0"/>
<circle cx="325.8" cy="333" r="3.0"/>
<circle cx="326.6" cy="333" r="3.0"/>
<circle cx="327.5" cy="336.9" r="3.0"/>
<circle cx="328.3" cy="338.8" r="3.0"/>
<circle cx="329.2" cy="342.6" r="3.0"/>
<circle cx="330" cy="340.7" r="3.0"/>
<circle cx="330.9" cy="338.8" r="3.0"/>
<circle cx="331.7" cy="340.7" r="3.0"/>
<circle cx="332.6" cy="346.4" r="3.0"/>
<circle cx="333.4" cy="340.7" r="3.0"/>
<circle cx="334.3" cy="344.5" r="3.0"/>
<circle cx="335.1" cy="344.5" r="3.0"/>
<circle cx="336" cy="346.4" r="3.0"/>
<circle cx="336.8" cy="344.5" r="3.0"/>
<circle cx="337.7" cy="346.4" r="3.0"/>
<circle cx="338.5" cy="346.4" r="3.0"/>
<circle cx="339.4" cy="348.3" r="3.0"/>
<circle cx="340.2" cy="348.3" r="3.0"/>
<circle cx="341.1" cy="348.3" r="3.0"/>
<circle cx="341.9" cy="344.5" r="3.0"/>
<circle cx="342.8" cy="344.5" r="3.0"/>
<circle cx="343.6" cy="350.3" r="3.0"/>
<circle cx="344.5" cy="348.3" r="3.0"/>
<circle cx="345.3" cy="346.4" r="3.0"/>
<circle cx="346.2" cy="350.3" r="3.0"/>
<circle cx="347" cy="348.3" r="3.0"/>
<circle cx="347.9" cy="350.3" r="3.0"/>
<circle cx="348.7" cy="350.3" r="3.0"/>
<circle cx="349.6" cy="348.3" r="3.0"/>
<circle cx="350.4" cy="348.3" r="3.0"/>
<circle cx="351.3" cy="352.2" r="3.0"/>
<circle cx="352.1" cy="346.4" r="3.0"/>
<circle cx="353" cy="350.3" r="3.0"/>
<circle cx="353.8" cy="346.4" r="3.0"/>
<circle cx="354.7" cy="350.3" r="3.0"/>
<circle cx="355.5" cy="350.3" r="3.0"/>
<circle cx="356.4" cy="352.2" r="3.0"/>
<circle cx="357.2" cy="352.2" r="3.0"/>
<circle cx="358.1" cy="350.3" r="3.0"/>
<circle cx="358.9" cy="348.3" r="3.0"/>
<circle cx="359.8" cy="348.3" r="3.0"/>
<circle cx="360.6" cy="352.2" r="3.0"/>
<circle cx="361.5" cy="352.2" r="3.0"/>
<circle cx="362.3" cy="348.3" r="3.0"/>
<circle cx="363.2" cy="354.1" r="3.0"/>
<circle cx="364" cy="352.2" r="3.0"/>
<circle cx="364.9" cy="354.1" r="3.0"/>
<circle cx="365.7" cy="350.3" r="3.0"/>
<circle cx="366.6" cy="352.2" r="3.0"/>
<circle cx="367.4" cy="350.3" r="3.0"/>
<circle cx="368.8" cy="354.1" r="3.0"/>
<circle cx="369.6" cy="354.1" r="3.0"/>
<circle cx="370.4" cy="356" r="3.0"/>
<circle cx="371.2" cy="356" r="3.0"/>
<circle cx="372" cy="356" r="3.0"/>
<circle cx="372.8" cy="354.1" r="3.0"/>
<circle cx="373.6" cy="354.1" r="3.0"/>
<circle cx="374.4" cy="352.2" r="3.0"/>
<circle cx="375.2" cy="350.3" r="3.0"/>
<circle cx="376" cy="348.3" r="3.0"/>
<circle cx="376.8" cy="346.4" r="3.0"/>
<circle cx="377.6" cy="344.5" r="3.0"/>
<circle cx="378.4" cy="342.6" r="3.0"/>
</g>
<polyline fill="none" stroke="#000" stroke-width="1.7" stroke-linejoin="round" points="230.2,312.8 239.5,317.4 247.2,320.2 254.9,321 264.2,320 268,320.2 273.5,318.6 277.2,316.9 279.3,317.6 281.5,317.9 286.1,315.5 295.2,313.2 303.3,311.3 306.5,313.1 312,317.3 322.6,323.4 335,331.1 341.2,334.9 357.5,343.8 381,354.4"/>
<g fill="none" stroke="#000" stroke-width="1.7">
<rect x="61.5" y="1.4" width="162.9" height="114.19999999999999"/>
<rect x="224.4" y="1.4" width="162.6" height="114.19999999999999"/>
<rect x="61.5" y="124.1" width="162.9" height="114.20000000000002"/>
<rect x="224.4" y="124.1" width="162.6" height="114.20000000000002"/>
<rect x="61.5" y="246.6" width="162.9" height="114.4"/>
<rect x="224.4" y="246.6" width="162.6" height="114.4"/>
<line x1="52.5" y1="15.8" x2="61.5" y2="15.8"/>
<line x1="52.5" y1="57.0" x2="61.5" y2="57.0"/>
<line x1="52.5" y1="98.0" x2="61.5" y2="98.0"/>
<line x1="52.5" y1="144.4" x2="61.5" y2="144.4"/>
<line x1="52.5" y1="182.4" x2="61.5" y2="182.4"/>
<line x1="52.5" y1="220.5" x2="61.5" y2="220.5"/>
<line x1="52.5" y1="263.8" x2="61.5" y2="263.8"/>
<line x1="52.5" y1="303.9" x2="61.5" y2="303.9"/>
<line x1="52.5" y1="344.2" x2="61.5" y2="344.2"/>
<line x1="73.0" y1="361.0" x2="73.0" y2="370.0"/>
<line x1="119.9" y1="361.0" x2="119.9" y2="370.0"/>
<line x1="166.8" y1="361.0" x2="166.8" y2="370.0"/>
<line x1="213.7" y1="361.0" x2="213.7" y2="370.0"/>
<line x1="235.8" y1="361.0" x2="235.8" y2="370.0"/>
<line x1="282.7" y1="361.0" x2="282.7" y2="370.0"/>
<line x1="329.6" y1="361.0" x2="329.6" y2="370.0"/>
<line x1="376.5" y1="361.0" x2="376.5" y2="370.0"/>
</g>
<g font-size="13.8px">
<text transform="translate(41.7 15.8) rotate(-90)" text-anchor="middle">9.10</text>
<text transform="translate(41.7 57.0) rotate(-90)" text-anchor="middle">9.01</text>
<text transform="translate(41.7 98.0) rotate(-90)" text-anchor="middle">8.92</text>
<text transform="translate(41.7 144.4) rotate(-90)" text-anchor="middle">8.24</text>
<text transform="translate(41.7 182.4) rotate(-90)" text-anchor="middle">8.16</text>
<text transform="translate(41.7 220.5) rotate(-90)" text-anchor="middle">8.08</text>
<text transform="translate(41.7 263.8) rotate(-90)" text-anchor="middle">8.77</text>
<text transform="translate(41.7 303.9) rotate(-90)" text-anchor="middle">8.56</text>
<text transform="translate(41.7 344.2) rotate(-90)" text-anchor="middle">8.35</text>
<text x="73.9" y="386.0" text-anchor="middle">0</text>
<text x="120.80000000000001" y="386.0" text-anchor="middle">8</text>
<text x="167.70000000000002" y="386.0" text-anchor="middle">16</text>
<text x="214.6" y="386.0" text-anchor="middle">24</text>
<text x="236.70000000000002" y="386.0" text-anchor="middle">0</text>
<text x="283.59999999999997" y="386.0" text-anchor="middle">8</text>
<text x="330.5" y="386.0" text-anchor="middle">16</text>
<text x="377.4" y="386.0" text-anchor="middle">24</text>
<text x="171.8" y="405.6" font-size="14px">Hours after sunrise</text>
<g font-size="13.6px">
<text transform="translate(14.8 277.2) rotate(-90)" >Dissolved Oxygen</text>
<text transform="translate(16.400000000000002 171.2) rotate(-90)" font-size="17.5px">(</text>
<text transform="translate(14.8 164.2) rotate(-90)" >mg O</text>
<text transform="translate(18.0 132.7) rotate(-90)" font-size="9.8px">2</text>
<text transform="translate(14.8 123.19999999999999) rotate(-90)" >L</text>
<text transform="translate(9.200000000000001 114.69999999999999) rotate(-90)" font-size="9.8px">−1</text>
<text transform="translate(16.400000000000002 104.89999999999998) rotate(-90)" font-size="17.5px">)</text>
</g>
</g>
<g font-size="17.5px" font-weight="bold">
<text x="208.1" y="17.0">a</text>
<text x="371.2" y="18.2">b</text>
<text x="208.2" y="141.6">c</text>
<text x="370.8" y="143.5">d</text>
<text x="208.0" y="261.4">e</text>
<text x="372.3" y="263.2">f</text>
</g>
</svg></body></html>
